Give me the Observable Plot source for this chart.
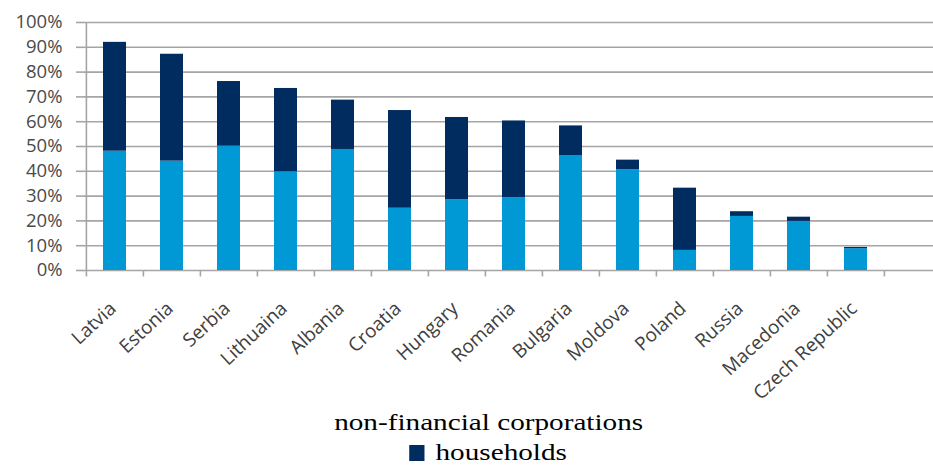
<!DOCTYPE html>
<html><head><meta charset="utf-8">
<script src="https://cdn.jsdelivr.net/npm/d3@7"></script>
<script src="https://cdn.jsdelivr.net/npm/@observablehq/plot@0.6"></script>
<style>
body{margin:0;background:#fff;width:933px;height:466px;overflow:hidden}
#chart{height:400px}
#legend{font-family:"Liberation Serif","Times New Roman",serif;font-size:23px;color:#000;line-height:30px;padding-top:8px;padding-left:44px}
.lg{text-align:center;white-space:nowrap}
.wrap{display:inline-block;transform:scaleX(1.27);transform-origin:center}
.sw{display:inline-block;width:12px;height:16px;margin-right:8.7px;vertical-align:-1px}
</style></head><body>
<div id="chart"></div>
<div id="legend"></div>
<script>
const countries = ["Latvia","Estonia","Serbia","Lithuaina","Albania","Croatia","Hungary","Romania","Bulgaria","Moldova","Poland","Russia","Macedonia","Czech Republic"];
const nonFinancial = [48.1,44.1,50.1,39.8,48.8,25.1,28.5,29.3,46.2,40.6,8.1,21.8,19.8,8.8];
const households   = [43.9,43.1,26.1,33.6,19.9,39.4,33.2,31.0,12.1,3.9,25.1,1.9,1.7,0.5];
const seriesNames = ["non-financial corporations","households"];
const colors = ["#0098d5","#002c5f"];
const yTicks = [0,10,20,30,40,50,60,70,80,90,100];

const domainX = [...countries, " "];
const data = countries.flatMap((c,i)=>[
  {country:c, series:seriesNames[0], value:nonFinancial[i]},
  {country:c, series:seriesNames[1], value:households[i]}
]);
const grid = "#a5a5a5";
const chart = Plot.plot({
  width:933, height:400, marginLeft:84, marginRight:0, marginTop:22, marginBottom:130,
  style:{fontFamily:"'Open Sans', sans-serif", fontSize:"16px", background:"#fff", overflow:"visible"},
  x:{domain:domainX, range:[84,942], paddingInner:0.6, paddingOuter:0.3, align:0.5, label:null},
  y:{domain:[0,100], label:null},
  color:{domain:seriesNames, range:colors},
  marks:[
    Plot.ruleY(yTicks, {y:d=>d, stroke:grid, strokeWidth:1.6}),
    Plot.ruleX(domainX, {x:d=>d, dx:-28.6, y1:0, y2:-2.6, stroke:grid, strokeWidth:1.6}),
    Plot.ruleX([countries[0]], {x:d=>d, dx:-28.6, y1:0, y2:100, stroke:grid, strokeWidth:1.6}),
    Plot.barY(data, {x:"country", y:"value", fill:"series"}),
    Plot.axisY({ticks:yTicks, tickSize:8, tickPadding:14, tickFormat:d=>d+"%", stroke:grid, strokeWidth:1.6, fill:"#4a4a4a", fontSize:18.5, label:null}),
    Plot.axisX({tickSize:0, tickRotate:-43, tickPadding:35, dx:-2, fill:"#404040", fontSize:19, label:null, tickFormat:d=>d})
  ]
});
document.getElementById("chart").appendChild(chart);

const legend = document.getElementById("legend");
seriesNames.forEach((name,i)=>{
  const line = document.createElement("div");
  line.className = "lg";
  const wrap = document.createElement("span");
  wrap.className = "wrap";
  if (i > 0) {
    const sw = document.createElement("span");
    sw.className = "sw";
    sw.style.background = colors[i];
    wrap.appendChild(sw);
  }
  wrap.appendChild(document.createTextNode(name));
  line.appendChild(wrap);
  legend.appendChild(line);
});
</script>
</body></html>
